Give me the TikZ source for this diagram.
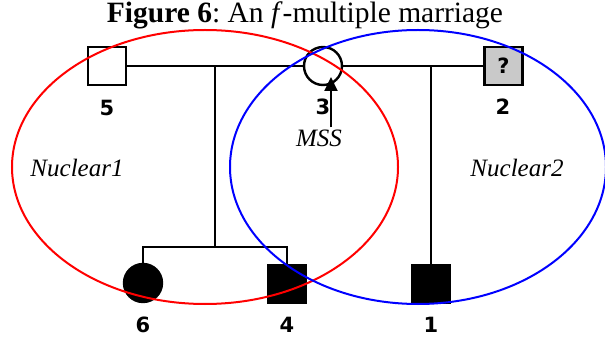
\documentclass[tikz,border=0pt]{standalone}
\usepackage{fontspec}
\setmainfont{Liberation Serif}
\newfontfamily\numfont{DejaVu Sans}
\usetikzlibrary{arrows.meta}
\frenchspacing
\tikzset{
  person/.style={draw=black, line width=2.4pt, fill=white, inner sep=0pt, minimum size=38pt},
  male/.style={person, rectangle},
  female/.style={person, circle},
  affected/.style={fill=black},
  unknown/.style={fill=black!21},
  idlabel/.style={font=\numfont\bfseries\fontsize{21}{23}\selectfont, inner sep=0pt},
  grouplabel/.style={font=\itshape\fontsize{25}{27}\selectfont, inner sep=0pt},
  kin/.style={line width=2.6pt, line cap=rect},
  group/.style={line width=2pt}
}
\begin{document}
\begin{tikzpicture}[x=1pt,y=-1pt]
\useasboundingbox (0,0) rectangle (605,339);
% title
\node[anchor=base, inner sep=0pt, font=\fontsize{29.5}{31}\selectfont] (title) at (305,23)
  {\textbf{Figure 6}: An \textit{f}-multiple marriage};
% individuals
\node[male] (s5) at (107,66) {};
\node[female] (c3) at (323,66) {};
\node[male, unknown] (s2) at (503.5,66) {\numfont\bfseries\fontsize{21}{23}\selectfont ?};
\node[female, affected] (c6) at (143,283) {};
\node[male, affected] (s4) at (287,284) {};
\node[male, affected] (s1) at (431,284) {};
% labels
\node[idlabel] (l5) at (107,108) {5};
\node[idlabel] (l3) at (323,107) {3};
\node[idlabel] (l2) at (503,107) {2};
\node[idlabel] (l6) at (143,325) {6};
\node[idlabel] (l4) at (287,325) {4};
\node[idlabel] (l1) at (431,325) {1};
\node[grouplabel] (n1) at (77,168) {Nuclear1};
\node[grouplabel] (n2) at (517,168) {Nuclear2};
\node[grouplabel] (mss) at (319,138) {MSS};
% connectors
\coordinate (m1) at (215,66);
\coordinate (m2) at (431,66);
\coordinate (sibc) at (215,247);
\coordinate (sibl) at (143,247);
\coordinate (sibr) at (287,247);
\draw[kin] (s5.east) -- (c3.west);
\draw[kin] (c3.east) -- (s2.west);
\draw[kin] (m1) -- (sibc);
\draw[kin] (sibl) -- (sibr);
\draw[kin] (sibl) -- (c6.north);
\draw[kin] (sibr) -- (s4.north);
\draw[kin] (m2) -- (s1.north);
\coordinate (arrtip) at (331,77);
\draw[line width=2pt, -{Triangle[width=13pt,length=14pt]}] (mss.north -| arrtip) ++(0,-2) -- (arrtip);
% nuclear families
\draw[group, red] (205,167) ellipse [x radius=193pt, y radius=137pt];
\draw[group, blue] (418,167) ellipse [x radius=188pt, y radius=137pt];
\end{tikzpicture}
\end{document}
